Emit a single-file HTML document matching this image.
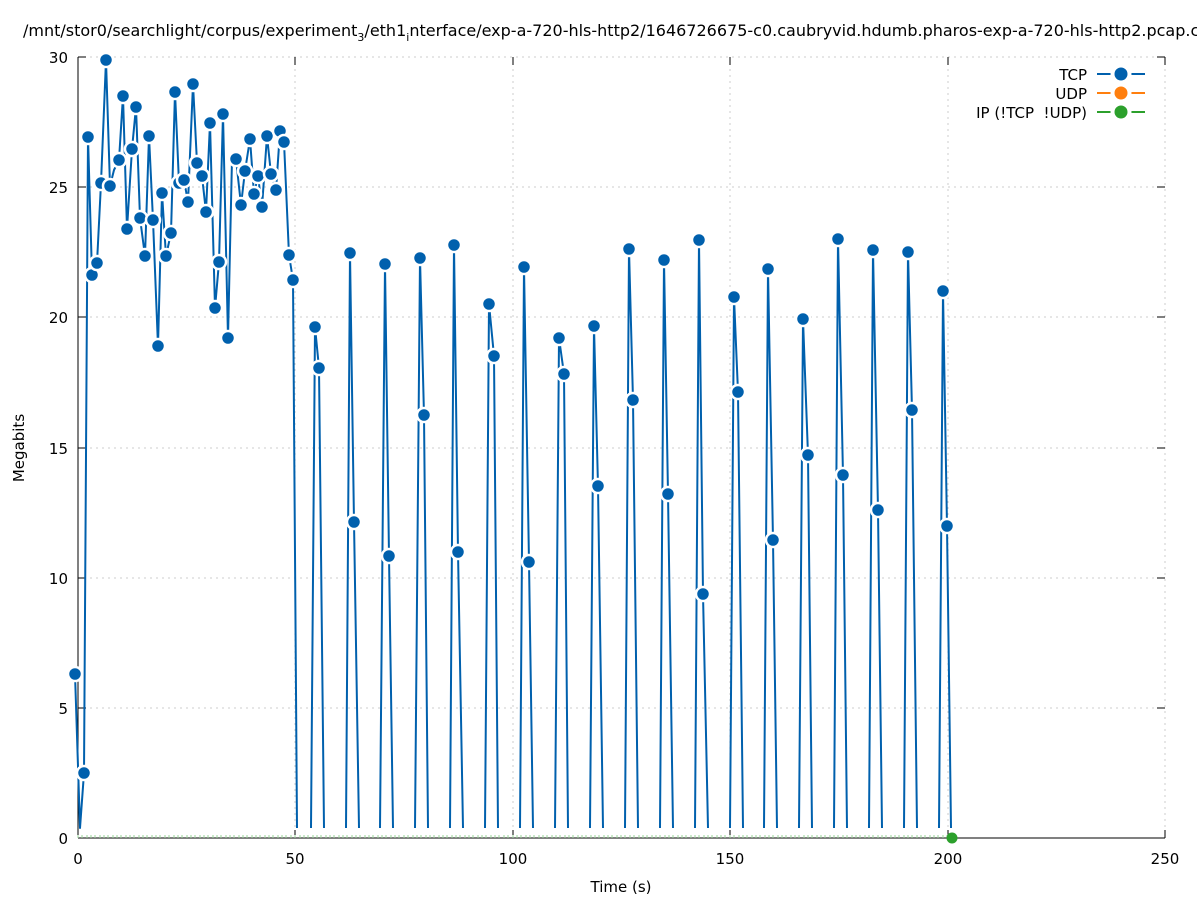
<!DOCTYPE html>
<html><head><meta charset="utf-8"><style>
html,body{margin:0;padding:0;background:#fff}
svg{display:block;font-family:"DejaVu Sans","Liberation Sans",sans-serif}
</style></head><body>
<svg width="1197" height="900" viewBox="0 0 1197 900" xmlns="http://www.w3.org/2000/svg">
<rect width="1197" height="900" fill="#fff"/>
<text x="23" y="36" font-size="16" fill="#000">/mnt/stor0/searchlight/corpus/experiment<tspan font-size="11" dy="5">3</tspan><tspan dy="-5">/eth1</tspan><tspan font-size="11" dy="5">i</tspan><tspan dy="-5">nterface/exp-a-720-hls-http2/1646726675-c0.caubryvid.hdumb.pharos-exp-a-720-hls-http2.pcap.csv</tspan></text>
<g stroke="#ccc" stroke-width="1" stroke-dasharray="2,4">
<line x1="78" y1="57" x2="1165" y2="57"/>
<line x1="78" y1="187" x2="1165" y2="187"/>
<line x1="78" y1="317" x2="1165" y2="317"/>
<line x1="78" y1="448" x2="1165" y2="448"/>
<line x1="78" y1="578" x2="1165" y2="578"/>
<line x1="78" y1="708" x2="1165" y2="708"/>
<line x1="295" y1="57" x2="295" y2="838"/>
<line x1="513" y1="57" x2="513" y2="838"/>
<line x1="730" y1="57" x2="730" y2="838"/>
<line x1="948" y1="57" x2="948" y2="838"/>
<line x1="1165" y1="57" x2="1165" y2="838"/>
</g>
<g stroke="#000" stroke-width="1">
<line x1="78" y1="57" x2="78" y2="838"/>
<line x1="78" y1="838" x2="1165" y2="838"/>
<path d="M78 57h8M78 187h8M78 317h8M78 448h8M78 578h8M78 708h8M1165 57h-8M1165 187h-8M1165 317h-8M1165 448h-8M1165 578h-8M1165 708h-8M1165 838h-8M295 838v-8M513 838v-8M730 838v-8M948 838v-8M1165 838v-8M295 57v8M513 57v8M730 57v8M948 57v8M1165 57v8"/>
</g>
<g font-size="15" fill="#000" text-anchor="end">
<text x="68" y="63">30</text><text x="68" y="193">25</text><text x="68" y="323">20</text><text x="68" y="454">15</text><text x="68" y="584">10</text><text x="68" y="714">5</text><text x="68" y="844">0</text>
</g>
<g font-size="15" fill="#000" text-anchor="middle">
<text x="78" y="864">0</text><text x="295" y="864">50</text><text x="513" y="864">100</text><text x="730" y="864">150</text><text x="948" y="864">200</text><text x="1165" y="864">250</text>
<text x="621" y="892">Time (s)</text>
<text transform="translate(24,448) rotate(-90)">Megabits</text>
</g>
<path d="M78 838v-3M82 838v-3M87 838v-3M91 838v-3M95 838v-3M100 838v-3M104 838v-3M108 838v-3M113 838v-3M117 838v-3M121 838v-3M126 838v-3M130 838v-3M134 838v-3M139 838v-3M143 838v-3M147 838v-3M152 838v-3M156 838v-3M160 838v-3M165 838v-3M169 838v-3M174 838v-3M178 838v-3M182 838v-3M187 838v-3M191 838v-3M195 838v-3M200 838v-3M204 838v-3M208 838v-3M213 838v-3M217 838v-3M221 838v-3M226 838v-3M230 838v-3M234 838v-3M239 838v-3M243 838v-3M247 838v-3M252 838v-3M256 838v-3M260 838v-3M265 838v-3M269 838v-3M273 838v-3M278 838v-3M282 838v-3M286 838v-3M291 838v-3M295 838v-3M300 838v-3M304 838v-3M308 838v-3M313 838v-3M317 838v-3M321 838v-3M326 838v-3M330 838v-3M334 838v-3M339 838v-3M343 838v-3M347 838v-3M352 838v-3M356 838v-3M360 838v-3M365 838v-3M369 838v-3M373 838v-3M378 838v-3M382 838v-3M386 838v-3M391 838v-3M395 838v-3M399 838v-3M404 838v-3M408 838v-3M413 838v-3M417 838v-3M421 838v-3M426 838v-3M430 838v-3M434 838v-3M439 838v-3M443 838v-3M447 838v-3M452 838v-3M456 838v-3M460 838v-3M465 838v-3M469 838v-3M473 838v-3M478 838v-3M482 838v-3M486 838v-3M491 838v-3M495 838v-3M499 838v-3M504 838v-3M508 838v-3M513 838v-3M517 838v-3M521 838v-3M526 838v-3M530 838v-3M534 838v-3M539 838v-3M543 838v-3M547 838v-3M552 838v-3M556 838v-3M560 838v-3M565 838v-3M569 838v-3M573 838v-3M578 838v-3M582 838v-3M586 838v-3M591 838v-3M595 838v-3M599 838v-3M604 838v-3M608 838v-3M612 838v-3M617 838v-3M621 838v-3M625 838v-3M630 838v-3M634 838v-3M639 838v-3M643 838v-3M647 838v-3M652 838v-3M656 838v-3M660 838v-3M665 838v-3M669 838v-3M673 838v-3M678 838v-3M682 838v-3M686 838v-3M691 838v-3M695 838v-3M699 838v-3M704 838v-3M708 838v-3M712 838v-3M717 838v-3M721 838v-3M725 838v-3M730 838v-3M734 838v-3M739 838v-3M743 838v-3M747 838v-3M752 838v-3M756 838v-3M760 838v-3M765 838v-3M769 838v-3M773 838v-3M778 838v-3M782 838v-3M786 838v-3M791 838v-3M795 838v-3M799 838v-3M804 838v-3M808 838v-3M812 838v-3M817 838v-3M821 838v-3M825 838v-3M830 838v-3M834 838v-3M838 838v-3M843 838v-3M847 838v-3M852 838v-3M856 838v-3M860 838v-3M865 838v-3M869 838v-3M873 838v-3M878 838v-3M882 838v-3M886 838v-3M891 838v-3M895 838v-3M899 838v-3M904 838v-3M908 838v-3M912 838v-3M917 838v-3M921 838v-3M925 838v-3M930 838v-3M934 838v-3M938 838v-3M943 838v-3M947 838v-3" stroke="#9ad59a" stroke-width="1"/>
<g fill="none" stroke="#0060ad" stroke-width="2" stroke-linejoin="round">
<polyline points="75,674 80,828 84,773 88,137 92,275 97,263 101,183 106,60 110,186 114,170 119,160 123,96 127,229 132,149 136,107 140,218 145,256 149,136 153,220 158,346 162,193 166,256 171,233 175,92 179,183 184,180 188,202 193,84 197,163 202,176 206,212 210,123 215,308 219,262 223,114 228,338 232,159 236,159 241,205 245,171 250,139 254,194 258,176 262,207 267,136 271,174 276,190 280,131 284,142 289,255 293,280 297,828"/>
<polyline points="311,828 315,327 319,368 324,828"/>
<polyline points="346,828 350,253 354,522 359,828"/>
<polyline points="380,828 385,264 389,556 393,828"/>
<polyline points="415,828 420,258 424,415 428,828"/>
<polyline points="450,828 454,245 458,552 463,828"/>
<polyline points="485,828 489,304 494,356 498,828"/>
<polyline points="520,828 524,267 529,562 533,828"/>
<polyline points="555,828 559,338 564,374 568,828"/>
<polyline points="590,828 594,326 598,486 603,828"/>
<polyline points="625,828 629,249 633,400 638,828"/>
<polyline points="660,828 664,260 668,494 673,828"/>
<polyline points="695,828 699,240 703,594 708,828"/>
<polyline points="730,828 734,297 738,392 743,828"/>
<polyline points="764,828 768,269 773,540 777,828"/>
<polyline points="799,828 803,319 808,455 812,828"/>
<polyline points="834,828 838,239 843,475 847,828"/>
<polyline points="869,828 873,250 878,510 882,828"/>
<polyline points="904,828 908,252 912,410 917,828"/>
<polyline points="939,828 943,291 947,526 951,828"/>
</g>
<g fill="#0060ad" stroke="#fff" stroke-width="2.5">
<circle cx="75" cy="674" r="7"/><circle cx="84" cy="773" r="7"/><circle cx="88" cy="137" r="7"/><circle cx="92" cy="275" r="7"/><circle cx="97" cy="263" r="7"/><circle cx="101" cy="183" r="7"/><circle cx="106" cy="60" r="7"/><circle cx="110" cy="186" r="7"/><circle cx="119" cy="160" r="7"/><circle cx="123" cy="96" r="7"/><circle cx="127" cy="229" r="7"/><circle cx="132" cy="149" r="7"/><circle cx="136" cy="107" r="7"/><circle cx="140" cy="218" r="7"/><circle cx="145" cy="256" r="7"/><circle cx="149" cy="136" r="7"/><circle cx="153" cy="220" r="7"/><circle cx="158" cy="346" r="7"/><circle cx="162" cy="193" r="7"/><circle cx="166" cy="256" r="7"/><circle cx="171" cy="233" r="7"/><circle cx="175" cy="92" r="7"/><circle cx="179" cy="183" r="7"/><circle cx="184" cy="180" r="7"/><circle cx="188" cy="202" r="7"/><circle cx="193" cy="84" r="7"/><circle cx="197" cy="163" r="7"/><circle cx="202" cy="176" r="7"/><circle cx="206" cy="212" r="7"/><circle cx="210" cy="123" r="7"/><circle cx="215" cy="308" r="7"/><circle cx="219" cy="262" r="7"/><circle cx="223" cy="114" r="7"/><circle cx="228" cy="338" r="7"/><circle cx="236" cy="159" r="7"/><circle cx="241" cy="205" r="7"/><circle cx="245" cy="171" r="7"/><circle cx="250" cy="139" r="7"/><circle cx="254" cy="194" r="7"/><circle cx="258" cy="176" r="7"/><circle cx="262" cy="207" r="7"/><circle cx="267" cy="136" r="7"/><circle cx="271" cy="174" r="7"/><circle cx="276" cy="190" r="7"/><circle cx="280" cy="131" r="7"/><circle cx="284" cy="142" r="7"/><circle cx="289" cy="255" r="7"/><circle cx="293" cy="280" r="7"/>
<circle cx="315" cy="327" r="7"/><circle cx="319" cy="368" r="7"/>
<circle cx="350" cy="253" r="7"/><circle cx="354" cy="522" r="7"/>
<circle cx="385" cy="264" r="7"/><circle cx="389" cy="556" r="7"/>
<circle cx="420" cy="258" r="7"/><circle cx="424" cy="415" r="7"/>
<circle cx="454" cy="245" r="7"/><circle cx="458" cy="552" r="7"/>
<circle cx="489" cy="304" r="7"/><circle cx="494" cy="356" r="7"/>
<circle cx="524" cy="267" r="7"/><circle cx="529" cy="562" r="7"/>
<circle cx="559" cy="338" r="7"/><circle cx="564" cy="374" r="7"/>
<circle cx="594" cy="326" r="7"/><circle cx="598" cy="486" r="7"/>
<circle cx="629" cy="249" r="7"/><circle cx="633" cy="400" r="7"/>
<circle cx="664" cy="260" r="7"/><circle cx="668" cy="494" r="7"/>
<circle cx="699" cy="240" r="7"/><circle cx="703" cy="594" r="7"/>
<circle cx="734" cy="297" r="7"/><circle cx="738" cy="392" r="7"/>
<circle cx="768" cy="269" r="7"/><circle cx="773" cy="540" r="7"/>
<circle cx="803" cy="319" r="7"/><circle cx="808" cy="455" r="7"/>
<circle cx="838" cy="239" r="7"/><circle cx="843" cy="475" r="7"/>
<circle cx="873" cy="250" r="7"/><circle cx="878" cy="510" r="7"/>
<circle cx="908" cy="252" r="7"/><circle cx="912" cy="410" r="7"/>
<circle cx="943" cy="291" r="7"/><circle cx="947" cy="526" r="7"/>
</g>
<circle cx="952" cy="838" r="5.5" fill="#2ca02c"/>
<g font-size="15" fill="#000" text-anchor="end">
<text x="1087" y="80">TCP</text><text x="1087" y="99">UDP</text><text x="1087" y="118">IP (!TCP&#160;&#160;!UDP)</text>
</g>
<g stroke-width="2">
<line x1="1097" y1="74" x2="1145" y2="74" stroke="#0060ad"/>
<line x1="1097" y1="93" x2="1145" y2="93" stroke="#ff7f0e"/>
<line x1="1097" y1="112" x2="1145" y2="112" stroke="#2ca02c"/>
<circle cx="1121" cy="74" r="8.5" fill="#0060ad" stroke="#fff" stroke-width="4"/>
<circle cx="1121" cy="93" r="8.5" fill="#ff7f0e" stroke="#fff" stroke-width="4"/>
<circle cx="1121" cy="112" r="8.5" fill="#2ca02c" stroke="#fff" stroke-width="4"/>
</g>
</svg>
</body></html>
